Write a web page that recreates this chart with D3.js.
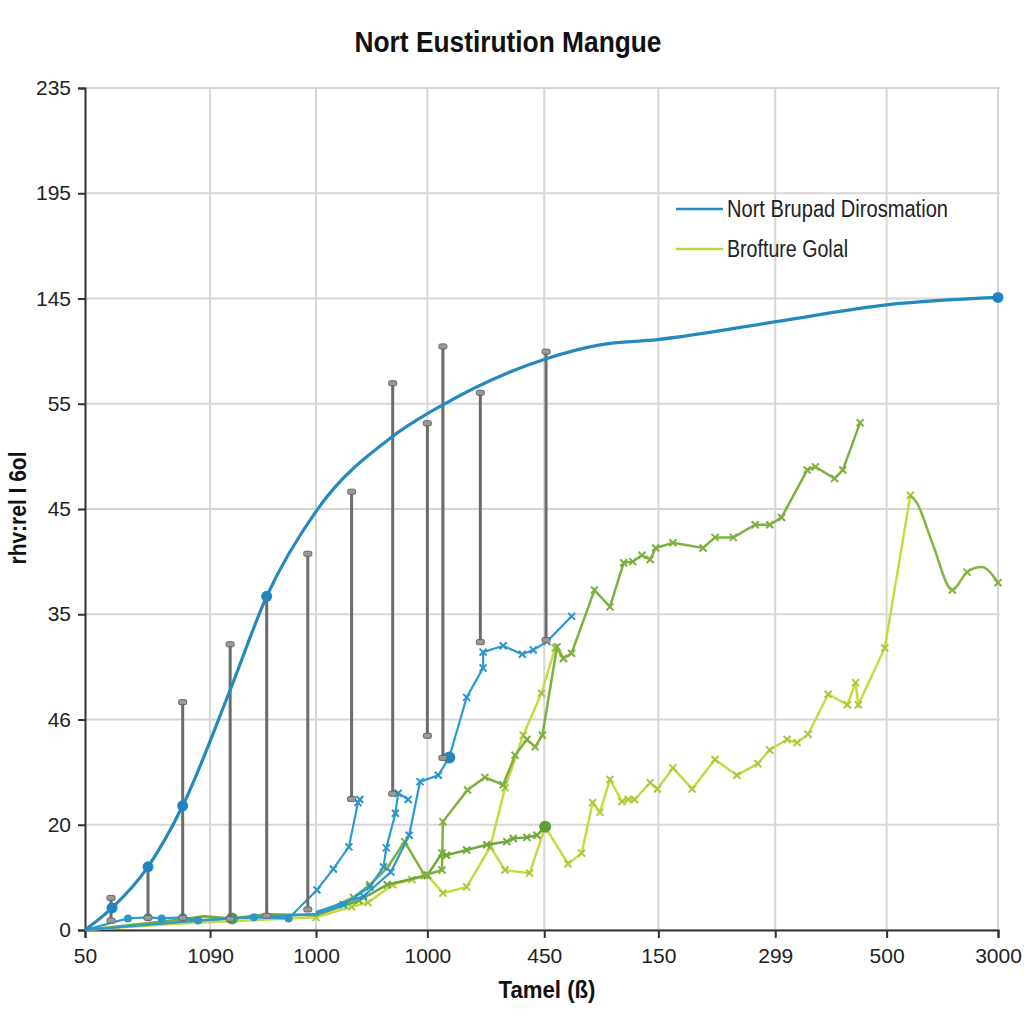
<!DOCTYPE html>
<html><head><meta charset="utf-8">
<script src="https://cdn.jsdelivr.net/npm/d3@7"></script>
<style>body{margin:0;background:#fff}</style>
</head><body>
<svg id="c" width="1024" height="1024"></svg>
<script>
// ---------- data ----------
const title = "Nort Eustirution Mangue";
const xTitle = "Tamel (ß)";
const yTitle = "rhv:rel I 6ol";
const yTickLabels = ["0","20","46","35","45","55","145","195","235"];
const yTickValues = [0,10,20,30,40,50,60,70,80];
const xTickLabels = ["50","1090","1000","1000","450","150","299","500","3000"];
const xTickValues = [0,13.7,25.3,37.5,50.3,62.8,75.6,87.8,100];
const legendNames = ["Nort Brupad Dirosmation","Brofture Golal"];

// main smooth blue curve
const curveX = [0,2.96,6.9,10.7,15.9,19.9,25.4,33.7,39.2,50.6,56.4,62.7,75.7,87.8,100];
const curveY = [0,2.1,6.0,11.8,22.8,31.7,39.9,46.9,49.9,54.3,55.6,56.1,57.8,59.4,60.1];
const curveMarkIdx = [1,2,3,5,14];

// grey range bars
const rangeX    = [2.85,6.9,10.7,15.9,19.9,24.4,29.2,33.7,37.5,39.2,43.3,50.5];
const rangeLow  = [0.95,1.2,1.2,1.1,1.4,2.0,12.5,13.0,18.5,16.4,27.4,27.6];
const rangeHigh = [3.0,6.0,21.6,27.1,31.7,35.7,41.6,51.9,48.1,55.4,51.0,54.9];

// thin blue series
const blueAX = [0,4.7,6.9,8.4,10.7,12.4,16.1,18.5,22.3,25.4,27.2,28.9,29.9,30.1];
const blueAY = [0,1.1,1.2,1.1,1.2,0.9,1.1,1.2,1.1,3.8,5.8,7.9,12.1,12.4];
const blueBX = [0,8.4,14,20,25.3,28.3,31.2,32.7,33.0,34.0,34.3,35.4];
const blueBY = [0,0.6,1.0,1.3,1.5,2.4,4.1,6.0,7.8,11.1,13.0,12.4];
const blueCX = [25.3,30.5,33.5,35.5,36.7,38.7,39.9,41.8,43.6,43.6,45.8,47.9,49.1,50.6,53.3];
const blueCY = [1.7,3.2,5.5,9.0,14.1,14.7,16.4,22.1,24.9,26.4,27.0,26.2,26.6,27.4,29.8];

// olive green series
const oliveX = [0,10,20,25.3,29.4,31.2,33.1,35.0,37.2,39.1,39.2,41.9,43.8,45.8,47.1,48.4,49.3,50.1,51.7,52.4,53.3,55.8,57.5,59.0,60.0,61.0,61.9,62.5,64.4,67.7,69.0,71.0,73.4,75.0,76.3,79.1,80.0,82.1,83.0,84.9];
const oliveY = [0,0.8,1.3,1.5,3.1,4.3,5.9,8.4,5.2,5.7,10.3,13.3,14.5,13.8,16.6,18.1,17.4,18.5,26.9,25.8,26.3,32.3,30.7,34.9,35.0,35.6,35.2,36.3,36.8,36.3,37.3,37.3,38.5,38.5,39.2,43.7,44.0,42.9,43.7,48.2];
// dark green series
const greenX = [0,10.5,13,16.1,20,25.3,30,33.1,37.5,39.1,39.6,41.8,44.0,46.2,46.9,48.4,49.5,50.4];
const greenY = [0,1.0,1.3,1.1,1.5,1.4,2.8,4.3,5.2,7.3,7.1,7.6,8.1,8.4,8.7,8.8,9.0,9.8];
const greenMarkIdx = [3,17];
// yellow-green series
const yellowX = [0,3,10,20,25.3,29.2,31.0,33.7,35.8,37.5,39.2,41.8,44.4,46.0,48.7,50.4,52.9,54.4,55.6,56.4,57.5,58.8,59.5,60.2,61.9,62.7,64.4,66.5,69.0,71.4,73.7,75.0,76.9,78.0,79.2,81.4,83.5,84.4,84.7,87.6,90.4];
const yellowY = [0,0.2,0.6,1.0,1.2,2.2,2.6,4.3,4.8,5.2,3.5,4.1,7.9,5.7,5.4,9.8,6.3,7.3,12.1,11.2,14.3,12.2,12.4,12.4,14.0,13.4,15.4,13.4,16.2,14.7,15.8,17.1,18.1,17.8,18.6,22.4,21.4,23.5,21.4,26.8,41.3];
const yellowBX = [44.4,46.0,48.0,50.0,51.5,52.4];
const yellowBY = [7.9,13.5,18.5,22.5,26.8,25.8];
const tailX = [90.4,91.1,92.8,95.0,96.6,98.2,100];
const tailY = [41.3,40.6,36.8,32.3,34.0,34.5,33.0];

// ---------- drawing ----------
const svg = d3.select("#c");
const L = 85, R = 998, T = 88, B = 930;
const x = d3.scaleLinear().domain([0,100]).range([L,R]);
const y = d3.scaleLinear().domain([0,80]).range([B,T]);
const FN = "'Liberation Sans Narrow','Arial Narrow','Liberation Sans',Arial,sans-serif";
const FR = "'Liberation Sans',Arial,sans-serif";

svg.append("rect").attr("width",1024).attr("height",1024).attr("fill","#fff");

// grid
const g = svg.append("g");
g.selectAll(".hg").data(yTickValues).join("line")
  .attr("x1",L).attr("x2",R+2).attr("y1",d=>y(d)).attr("y2",d=>y(d))
  .attr("stroke","#d6d6d6").attr("stroke-width",2);
g.selectAll(".vg").data(xTickValues.slice(1)).join("line")
  .attr("x1",d=>x(d)).attr("x2",d=>x(d)).attr("y1",T).attr("y2",B)
  .attr("stroke","#d6d6d6").attr("stroke-width",2);

// axes
const ya = svg.append("g").attr("transform",`translate(${L},0)`)
  .call(d3.axisLeft(y).tickValues(yTickValues).tickFormat((d,i)=>yTickLabels[i]).tickSize(7).tickPadding(7));
const xa = svg.append("g").attr("transform",`translate(0,${B})`)
  .call(d3.axisBottom(x).tickValues(xTickValues).tickFormat((d,i)=>xTickLabels[i]).tickSize(8).tickPadding(6));
[ya,xa].forEach(a=>{
  a.select(".domain").attr("stroke","#333").attr("stroke-width",2);
  a.selectAll(".tick line").attr("stroke","#333").attr("stroke-width",2);
  a.selectAll("text").attr("font-family",FR).attr("font-size",21).attr("fill","#222");
});
xa.selectAll(".tick text").attr("dy","0.9em");

const line = (X,Y,curve) => d3.line().x((d,i)=>x(X[i])).y((d,i)=>y(Y[i])).curve(curve||d3.curveLinear)(X);

function cross(sel, X, Y, color, s){
  sel.selectAll(null).data(X).join("path")
    .attr("d",(d,i)=>{const cx=x(X[i]),cy=y(Y[i]);return `M${cx-s},${cy-s}L${cx+s},${cy+s}M${cx-s},${cy+s}L${cx+s},${cy-s}`;})
    .attr("stroke",color).attr("stroke-width",2);
}

const plot = svg.append("g");
// yellow & greens
plot.append("path").attr("d",line(yellowX,yellowY)).attr("fill","none").attr("stroke","#cbd93f").attr("stroke-width",2.5);
cross(plot, yellowX.slice(4), yellowY.slice(4), "#a9c83a", 3.5);
plot.append("path").attr("d",line(yellowBX,yellowBY)).attr("fill","none").attr("stroke","#cbd93f").attr("stroke-width",2.5);
cross(plot, yellowBX, yellowBY, "#a9c83a", 3.5);
plot.append("path").attr("d",line(tailX,tailY,d3.curveMonotoneX)).attr("fill","none").attr("stroke","#86b43e").attr("stroke-width",2.5);
cross(plot, [tailX[3],tailX[4],tailX[6]], [tailY[3],tailY[4],tailY[6]], "#86b43e", 3.5);
plot.append("path").attr("d",line(greenX,greenY)).attr("fill","none").attr("stroke","#6fa83a").attr("stroke-width",2.5);
cross(plot, greenX.slice(6), greenY.slice(6), "#6fa83a", 3.5);
plot.selectAll(null).data(greenMarkIdx).join("circle").attr("cx",i=>x(greenX[i])).attr("cy",i=>y(greenY[i])).attr("r",6).attr("fill","#5f9e36");
plot.append("path").attr("d",line(oliveX,oliveY)).attr("fill","none").attr("stroke","#7db13e").attr("stroke-width",2.5);
cross(plot, oliveX.slice(4), oliveY.slice(4), "#7db13e", 3.5);

// grey range bars
const rb = svg.append("g");
rb.selectAll(null).data(rangeX).join("line")
  .attr("x1",d=>x(d)).attr("x2",d=>x(d)).attr("y1",(d,i)=>y(rangeLow[i])).attr("y2",(d,i)=>y(rangeHigh[i]))
  .attr("stroke","#6b6b6b").attr("stroke-width",3);
rb.selectAll(null).data(rangeX).join("rect")
  .attr("x",d=>x(d)-4).attr("y",(d,i)=>y(rangeHigh[i])-3).attr("width",8).attr("height",5).attr("rx",1.5)
  .attr("fill","#9a9a9a").attr("stroke","#666").attr("stroke-width",1);
rb.selectAll(null).data(rangeX).join("rect")
  .attr("x",d=>x(d)-4).attr("y",(d,i)=>y(rangeLow[i])-2).attr("width",8).attr("height",5).attr("rx",1.5)
  .attr("fill","#9a9a9a").attr("stroke","#666").attr("stroke-width",1);

// thin blue series
[[blueAX,blueAY],[blueBX,blueBY],[blueCX,blueCY]].forEach(([X,Y])=>{
  plot.append("path").attr("d",line(X,Y)).attr("fill","none").attr("stroke","#2b9ad0").attr("stroke-width",2.2);
});
plot.selectAll(null).data(blueAX.slice(1,9)).join("circle").attr("cx",d=>x(d)).attr("cy",(d,i)=>y(blueAY[i+1])).attr("r",4).attr("fill","#2b95c8");
cross(plot, blueAX.slice(9), blueAY.slice(9), "#2b95c8", 3.5);
cross(plot, blueBX.slice(5), blueBY.slice(5), "#2b95c8", 3.5);
cross(plot, blueCX.slice(1), blueCY.slice(1), "#2b95c8", 3.5);
plot.append("circle").attr("cx",x(blueCX[6])).attr("cy",y(blueCY[6])).attr("r",6).attr("fill","#2188c0");

// main blue curve
svg.append("path").attr("d",line(curveX,curveY,d3.curveMonotoneX)).attr("fill","none").attr("stroke","#2589bd").attr("stroke-width",3.2);
svg.selectAll(null).data(curveMarkIdx).join("circle").attr("cx",i=>x(curveX[i])).attr("cy",i=>y(curveY[i])).attr("r",5.5).attr("fill","#1f86c2");

// legend
const lg = svg.append("g");
const legColors = ["#2589bd","#c3d23c"];
const legWidths = [221,121];
legendNames.forEach((n,i)=>{
  const ly = 209 + i*40;
  lg.append("line").attr("x1",676).attr("x2",723).attr("y1",ly).attr("y2",ly).attr("stroke",legColors[i]).attr("stroke-width",2.5);
  lg.append("text").attr("x",727).attr("y",ly).attr("dy","0.35em").attr("font-family",FN).attr("font-size",23)
    .attr("textLength",legWidths[i]).attr("lengthAdjust","spacingAndGlyphs").attr("fill","#222").text(n);
});

// titles
svg.append("text").attr("x",508).attr("y",52).attr("text-anchor","middle").attr("font-family",FN).attr("font-weight","bold").attr("font-size",29)
  .attr("textLength",307).attr("lengthAdjust","spacingAndGlyphs").attr("fill","#111").text(title);
svg.append("text").attr("x",547).attr("y",998).attr("text-anchor","middle").attr("font-family",FN).attr("font-weight","bold").attr("font-size",24)
  .attr("textLength",97).attr("lengthAdjust","spacingAndGlyphs").attr("fill","#111").text(xTitle);
svg.append("text").attr("transform","translate(26,508) rotate(-90)").attr("text-anchor","middle").attr("font-family",FN).attr("font-weight","bold").attr("font-size",23)
  .attr("textLength",113).attr("lengthAdjust","spacingAndGlyphs").attr("fill","#111").text(yTitle);
</script>
</body></html>
